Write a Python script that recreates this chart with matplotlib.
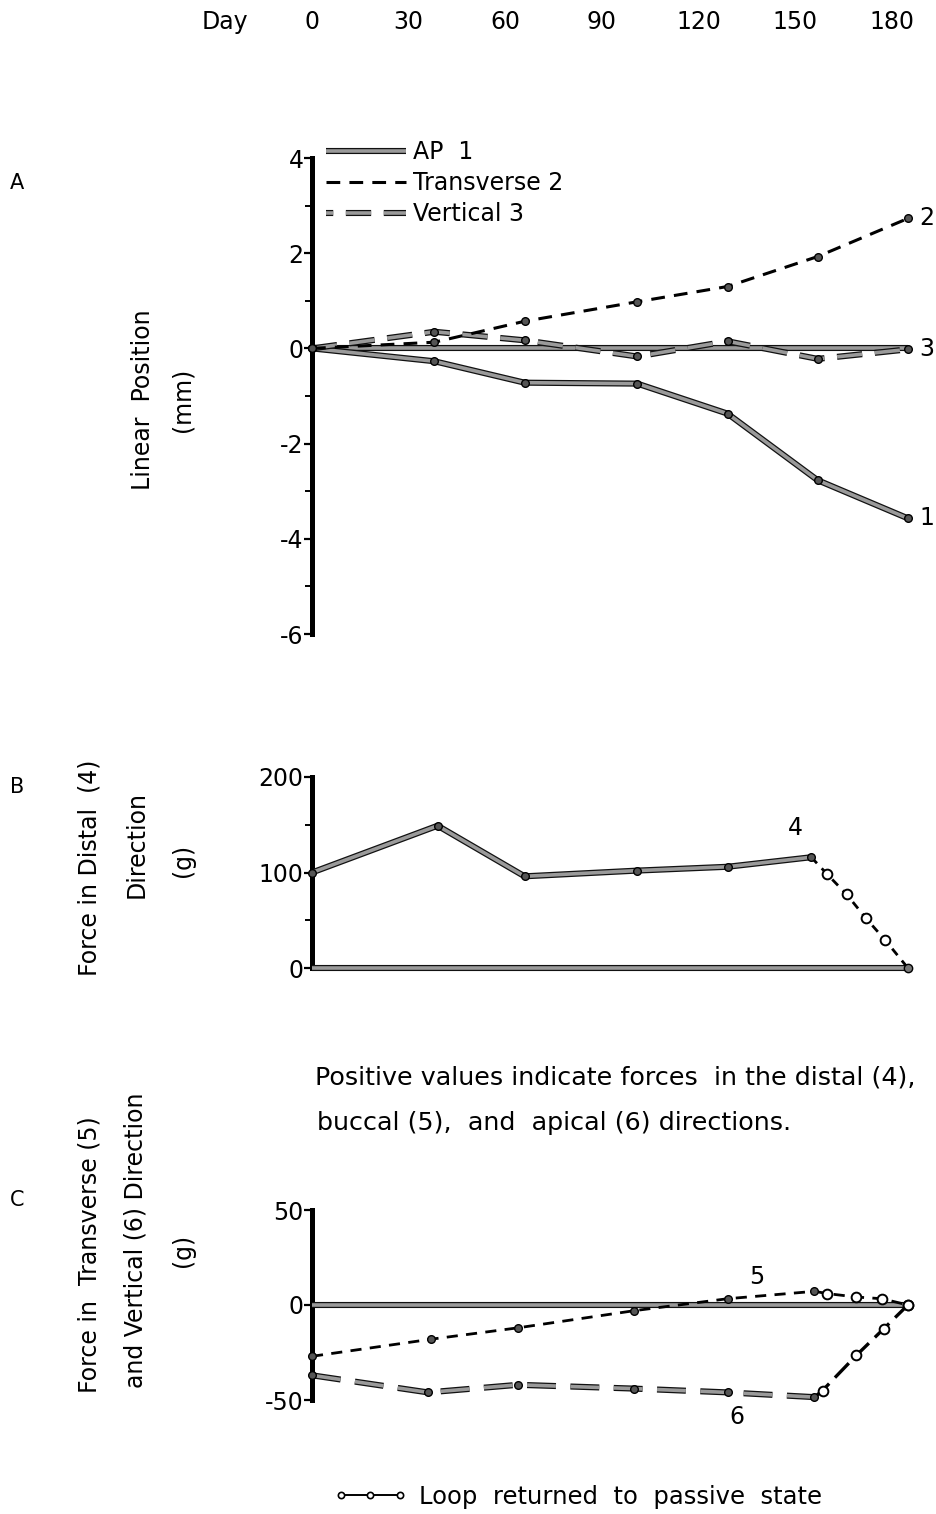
import matplotlib
matplotlib.use("Agg")
import matplotlib.pyplot as plt
import matplotlib.patheffects as pe
from matplotlib.lines import Line2D
from matplotlib.ticker import MultipleLocator

plt.rcParams['font.family'] = ['DejaVu Sans']
plt.rcParams['axes.unicode_minus'] = False

# ---------------- data ----------------
header_days = [0, 30, 60, 90, 120, 150, 180]

# Panel A: linear position (mm)
days_a = [0, 38, 66, 101, 129, 157, 185]
ap_1 = [0, -0.27, -0.72, -0.74, -1.37, -2.77, -3.57]
transverse_2 = [0, 0.13, 0.57, 0.98, 1.30, 1.93, 2.73]
vertical_3 = [0, 0.35, 0.17, -0.17, 0.15, -0.22, -0.02]
baseline_days = [0, 185]
baseline_vals = [0, 0]

# Panel B: force in distal direction (g)
days_b_active = [0, 39, 66, 101, 129, 155]
force_4_active = [100, 149, 96, 102, 106, 116]
days_b_passive = [155, 160, 166, 172, 178, 185]
force_4_passive = [116, 98, 77, 52, 29, 0]

# Panel C: transverse (5) and vertical (6) forces (g)
days_c_active = [0, 37, 64, 100, 129, 156]
force_5_active = [-27, -18, -12, -3, 3.3, 7.2]
days_c5_passive = [156, 160, 169, 177, 185]
force_5_passive = [7.2, 6, 4.2, 3.3, 0]
days_c6_active = [0, 36, 64, 100, 129, 156]
force_6_active = [-37, -46, -42, -44, -46, -48.5]
days_c6_passive = [156, 158.5, 169, 177.5, 185]
force_6_passive = [-48.5, -45, -26.5, -12.5, 0]

# ---------------- styling helpers ----------------
W, H = 937, 1514
fig = plt.figure(figsize=(W / 100, H / 100), dpi=100)

GRAY = '#9a9a9a'
OUT = [pe.Stroke(linewidth=4.4, foreground='#111111'), pe.Normal()]
FS = 17

def px_axes(top, bottom, left=312, right=924):
    return fig.add_axes([left / W, 1 - bottom / H, (right - left) / W, (bottom - top) / H])

def style_axis(ax, ylim, major, minor=None):
    ax.set_xlim(0, 190)
    ax.set_ylim(*ylim)
    for s in ['top', 'right', 'bottom']:
        ax.spines[s].set_visible(False)
    ax.spines['left'].set_linewidth(3.6)
    ax.spines['left'].set_color('black')
    ax.set_xticks([])
    ax.yaxis.set_major_locator(MultipleLocator(major))
    if minor:
        ax.yaxis.set_minor_locator(MultipleLocator(minor))
    ax.tick_params(axis='y', which='major', direction='out', length=6, width=1.6,
                   labelsize=FS, pad=0)
    ax.tick_params(axis='y', which='minor', direction='out', length=5, width=1.4)
    ax.patch.set_alpha(0)

def gray_line(ax, x, y, ls='-', marker=True, **kw):
    ax.plot(x, y, color=GRAY, lw=2.6, ls=ls, path_effects=OUT, solid_capstyle='butt',
            dash_capstyle='butt', zorder=3, clip_on=False, **kw)
    if marker:
        ax.plot(x, y, ls='none', marker='o', ms=5.5, mfc='#555555', mec='black',
                mew=1.0, zorder=5, clip_on=False)

def black_dash(ax, x, y, dashes, filled=True, lw=2.0):
    ax.plot(x, y, color='black', lw=lw, dashes=dashes, zorder=4, clip_on=False)
    if filled:
        ax.plot(x, y, ls='none', marker='o', ms=5.5, mfc='#555555', mec='black',
                mew=1.0, zorder=5, clip_on=False)

def open_marks(ax, x, y):
    ax.plot(x, y, ls='none', marker='o', ms=7, mfc='white', mec='black',
            mew=1.4, zorder=6, clip_on=False)

# ---------------- Panel A ----------------
axA = px_axes(158, 634)
style_axis(axA, (-6, 4), 2, 1)
gray_line(axA, baseline_days, baseline_vals, marker=False)
gray_line(axA, days_a, ap_1)
black_dash(axA, days_a, transverse_2, dashes=(4.5, 3), lw=2.2)
gray_line(axA, days_a, vertical_3, ls=(0, (7, 3.5)))

axA.text(188.5, ap_1[-1], '1', fontsize=FS, va='center', ha='left')
axA.text(188.5, transverse_2[-1], '2', fontsize=FS, va='center', ha='left')
axA.text(188.5, vertical_3[-1], '3', fontsize=FS, va='center', ha='left')

leg_handles = [
    Line2D([], [], color=GRAY, lw=2.6, path_effects=OUT, solid_capstyle='butt'),
    Line2D([], [], color='black', lw=2.2, dashes=(4.5, 3)),
    Line2D([], [], color=GRAY, lw=2.6, ls=(5, (7, 3.5)), path_effects=OUT),
]
axA.legend(leg_handles, ['AP  1', 'Transverse 2', 'Vertical 3'], loc='upper left',
           bbox_to_anchor=(326 / W, 1 - 140 / H), bbox_transform=fig.transFigure,
           frameon=False, fontsize=FS, handlelength=3.4, handletextpad=0.3,
           labelspacing=0.3, borderpad=0, borderaxespad=0)

sec = axA.secondary_xaxis(1 + (158 - 34) / 476)
sec.set_xticks(header_days)
sec.set_xticklabels([str(d) for d in header_days])
sec.tick_params(length=0, pad=0, labelsize=FS)
sec.spines['top'].set_visible(False)

# ---------------- Panel B ----------------
axB = px_axes(777, 968)
style_axis(axB, (0, 200), 100, 50)
gray_line(axB, baseline_days, baseline_vals, marker=False)
gray_line(axB, days_b_active, force_4_active)
black_dash(axB, days_b_passive, force_4_passive, dashes=(3, 2.5), filled=False)
open_marks(axB, days_b_passive[1:-1], force_4_passive[1:-1])
axB.plot(days_b_passive[-1:], force_4_passive[-1:], ls='none', marker='o', ms=6,
         mfc='#777777', mec='black', zorder=6, clip_on=False)
axB.text(150, 147, '4', fontsize=FS, ha='center', va='center')

# ---------------- Panel C ----------------
axC = px_axes(1210, 1400)
style_axis(axC, (-50, 50), 50)
gray_line(axC, baseline_days, baseline_vals, marker=False)
black_dash(axC, days_c_active, force_5_active, dashes=(4, 3))
black_dash(axC, days_c5_passive, force_5_passive, dashes=(4, 3), filled=False)
open_marks(axC, days_c5_passive[1:], force_5_passive[1:])
gray_line(axC, days_c6_active, force_6_active, ls=(0, (8, 4)))
black_dash(axC, days_c6_passive, force_6_passive, dashes=(6, 2.5), filled=False, lw=2.4)
open_marks(axC, days_c6_passive[1:], force_6_passive[1:])
axC.text(138, 15, '5', fontsize=FS, ha='center', va='center')
axC.text(132, -59, '6', fontsize=FS, ha='center', va='center')

# ---------------- labels & texts ----------------
fig.text(225 / W, 1 - 22 / H, 'Day', fontsize=FS, ha='center', va='center')
for letter, y in [('A', 183), ('B', 787), ('C', 1200)]:
    fig.text(17 / W, 1 - y / H, letter, fontsize=15, ha='center', va='center')

def vlabel(x, y, s):
    fig.text(x / W, 1 - y / H, s, fontsize=FS, rotation=90, ha='center', va='center')

vlabel(143, 400, 'Linear  Position')
vlabel(183, 400, '(mm)')
vlabel(90, 868, 'Force in Distal  (4)')
vlabel(137, 845, 'Direction')
vlabel(183, 860, '(g)')
vlabel(90, 1255, 'Force in  Transverse (5)')
vlabel(136, 1240, 'and Vertical (6) Direction')
vlabel(183, 1250, '(g)')

fig.text(315 / W, 1 - 1077 / H, 'Positive values indicate forces  in the distal (4),',
         fontsize=18.3, ha='left', va='center')
fig.text(317 / W, 1 - 1123 / H, 'buccal (5),  and  apical (6) directions.',
         fontsize=18.3, ha='left', va='center')

passive_handle = Line2D([], [], color='black', lw=1.4, marker='o', ms=4.5, mfc='white',
                        mec='black', mew=1.2)
fig.legend([passive_handle], ['Loop  returned  to  passive  state'], numpoints=3,
           loc='center left', bbox_to_anchor=(334 / W, 1 - 1497 / H), frameon=False,
           fontsize=17.5, handlelength=3.0, handletextpad=0.5, borderpad=0,
           borderaxespad=0)

fig.savefig('out.png', dpi=100)
